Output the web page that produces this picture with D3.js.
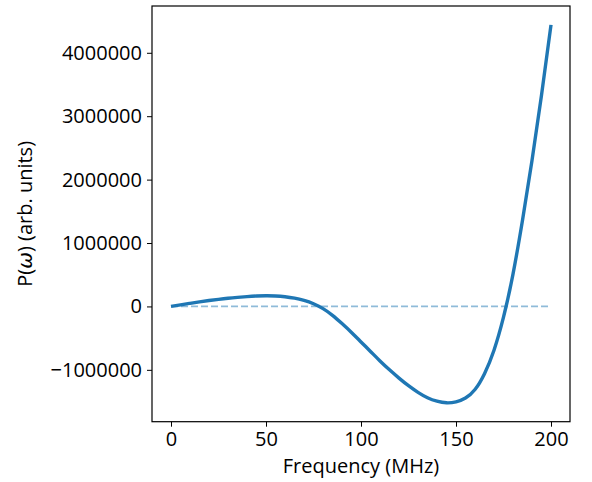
<!DOCTYPE html>
<html>
<head>
<meta charset="utf-8">
<script src="https://cdn.jsdelivr.net/npm/d3@7"></script>
<style>
  html, body { margin: 0; padding: 0; background: #fff; }
  svg { display: block; }
  text { font-family: "Open Sans", "Noto Sans", "DejaVu Sans", sans-serif; fill: #000; }
</style>
</head>
<body>
<svg id="chart" width="592" height="482"></svg>
<script>
// ---- data ----
const frequencies = [0,5,10,15,20,25,30,35,40,45,50,55,60,65,70,75,80,85,90,95,100,
  105,110,115,120,125,130,135,140,145,150,155,160,165,170,175,180,185,190,195,200];
const powerValues = [0,25000,49000,72000,93000,112000,129000,143000,155000,164000,168000,
  165000,153000,130000,94000,42000,-35000,-140000,-270000,-410000,-560000,
  -710000,-860000,-1000000,-1130000,-1250000,-1355000,-1440000,-1495000,-1520000,-1505000,
  -1445000,-1310000,-1060000,-690000,-170000,510000,1360000,2300000,3330000,4440000];
const xTicks = [0, 50, 100, 150, 200];
const yTicks = [-1000000, 0, 1000000, 2000000, 3000000, 4000000];
const zeroLineX = [0, 200];
const xLabel = "Frequency (MHz)";

(function () {
const svg = d3.select("#chart");
const mLeft = 152, mRight = 570, mTop = 6, mBottom = 421.7;

const xMin = d3.min(frequencies), xMax = d3.max(frequencies);
const yMin = d3.min(powerValues), yMax = d3.max(powerValues);
const xPad = (xMax - xMin) * 0.05, yPad = (yMax - yMin) * 0.05;

const x = d3.scaleLinear().domain([xMin - xPad, xMax + xPad]).range([mLeft, mRight]);
const y = d3.scaleLinear().domain([yMin - yPad, yMax + yPad]).range([mBottom, mTop]);

const data = frequencies.map((f, i) => ({ f, v: powerValues[i] }));

// dashed zero line
svg.append("line")
  .attr("x1", x(zeroLineX[0])).attr("x2", x(zeroLineX[1]))
  .attr("y1", y(0)).attr("y2", y(0))
  .attr("stroke", "#1f77b4").attr("stroke-opacity", 0.5)
  .attr("stroke-width", 1.8).attr("stroke-dasharray", "7,3");

// curve
const line = d3.line().x(d => x(d.f)).y(d => y(d.v)).curve(d3.curveNatural);
svg.append("path").datum(data)
  .attr("d", line)
  .attr("fill", "none")
  .attr("stroke", "#1f77b4")
  .attr("stroke-width", 3.4)
  .attr("stroke-linecap", "butt");

// axes
const fmtY = d => (d < 0 ? "\u2212" : "") + Math.abs(d).toString();
const xAxis = d3.axisBottom(x).tickValues(xTicks).tickSize(5).tickPadding(5).tickFormat(d3.format("d"));
const yAxis = d3.axisLeft(y).tickValues(yTicks).tickSize(5).tickPadding(5).tickFormat(fmtY);

const gx = svg.append("g").attr("transform", `translate(0,${mBottom})`).call(xAxis);
const gy = svg.append("g").attr("transform", `translate(${mLeft},0)`).call(yAxis);
[gx, gy].forEach(g => {
  g.select(".domain").remove();
  g.selectAll(".tick line").attr("stroke", "#000").attr("stroke-width", 1);
  g.selectAll(".tick text").attr("font-size", 20).attr("fill", "#000")
    .style("font-family", "'Open Sans', 'Noto Sans', sans-serif");
});

// frame
svg.append("rect")
  .attr("x", mLeft).attr("y", mTop)
  .attr("width", mRight - mLeft).attr("height", mBottom - mTop)
  .attr("fill", "none").attr("stroke", "#000").attr("stroke-width", 1.2);

// axis labels
svg.append("text")
  .attr("x", (mLeft + mRight) / 2).attr("y", 473)
  .attr("text-anchor", "middle").attr("font-size", 20)
  .text(xLabel);

const yl = svg.append("text")
  .attr("transform", `translate(32,${(mTop + mBottom) / 2}) rotate(-90)`)
  .attr("text-anchor", "middle").attr("font-size", 20);
yl.append("tspan").text("P(");
yl.append("tspan").attr("font-style", "italic").attr("font-family", "'DejaVu Sans', sans-serif").text("\u03C9");
yl.append("tspan").text(") (arb. units)");
})();
</script>
</body>
</html>
